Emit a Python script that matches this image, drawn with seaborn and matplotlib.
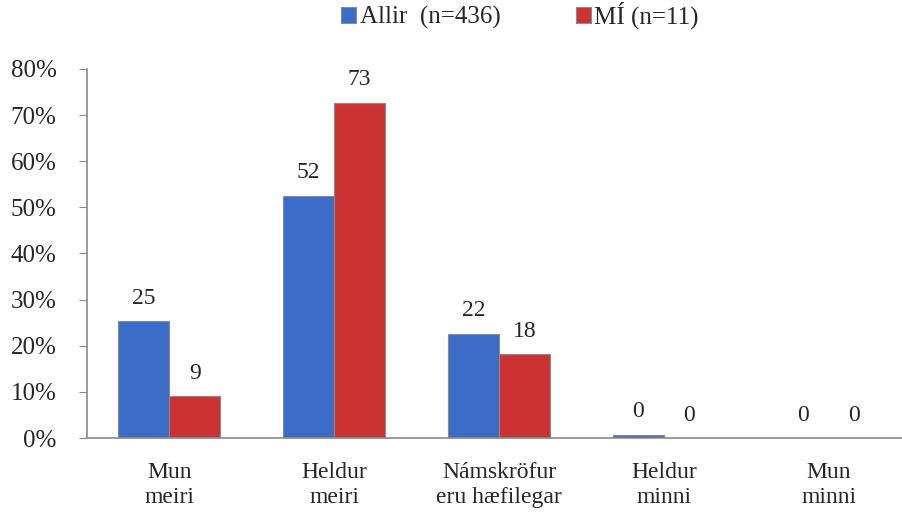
import pandas as pd
import numpy as np
import matplotlib.pyplot as plt
import seaborn as sns

# Data
categories = ["Mun\nmeiri", "Heldur\nmeiri", "Námskröfur\neru hæfilegar", "Heldur\nminni", "Mun\nminni"]
allir = [25.3, 52.5, 22.6, 0.7, 0.0]
mi = [9.1, 72.7, 18.2, 0.0, 0.0]
allir_labels = ["25", "52", "22", "0", "0"]
mi_labels = ["9", "73", "18", "0", "0"]
series = ["Allir  (n=436)", "MÍ (n=11)"]

df = pd.DataFrame({
    "cat": categories * 2,
    "val": allir + mi,
    "series": [series[0]] * 5 + [series[1]] * 5,
})

sns.set_style("white")
plt.rcParams["font.family"] = ["Liberation Serif", "DejaVu Serif"]

fig = plt.figure(figsize=(9.03, 5.25), dpi=100)
ax = fig.add_axes([87 / 903, 0.1657, 824 / 903, 0.7029])

sns.barplot(data=df, x="cat", y="val", hue="series", order=categories,
            hue_order=series, palette=["#3a6cc8", "#cc3232"], saturation=1,
            width=0.62, edgecolor="#8a8a8a", linewidth=0.8, ax=ax)

# Value labels on top of the bars
for cont, labels in zip(ax.containers, [allir_labels, mi_labels]):
    ax.bar_label(cont, labels=labels, padding=9, fontsize=17)

ax.set_ylim(0, 80)
ax.set_xlim(-0.5, 4.5)
ax.set_yticks(np.arange(0, 81, 10))
ax.set_yticklabels([f"{v}%" for v in range(0, 81, 10)], fontsize=18)
ax.set_xticklabels(categories, fontsize=17, linespacing=1.25)
ax.tick_params(axis="x", length=0, pad=17)
ax.set_xticks(np.arange(-0.5, 5, 1), minor=True)
ax.tick_params(axis="x", which="minor", length=6, color="#8a8a8a", direction="out")
ax.tick_params(axis="y", length=6, color="#8a8a8a", direction="out", left=True, pad=16)
ax.set_xlabel("")
ax.set_ylabel("")
for s in ["top", "right"]:
    ax.spines[s].set_visible(False)
for s in ["left", "bottom"]:
    ax.spines[s].set_color("#8a8a8a")
    ax.spines[s].set_linewidth(1.2)

leg = ax.legend(loc="upper center", ncol=2, frameon=False, fontsize=18,
                handlelength=0.6, handleheight=0.6, handletextpad=0.15,
                columnspacing=3.0)
leg.set_bbox_to_anchor((520 / 903, 1.04), transform=fig.transFigure)

plt.savefig("out.png", dpi=100)
